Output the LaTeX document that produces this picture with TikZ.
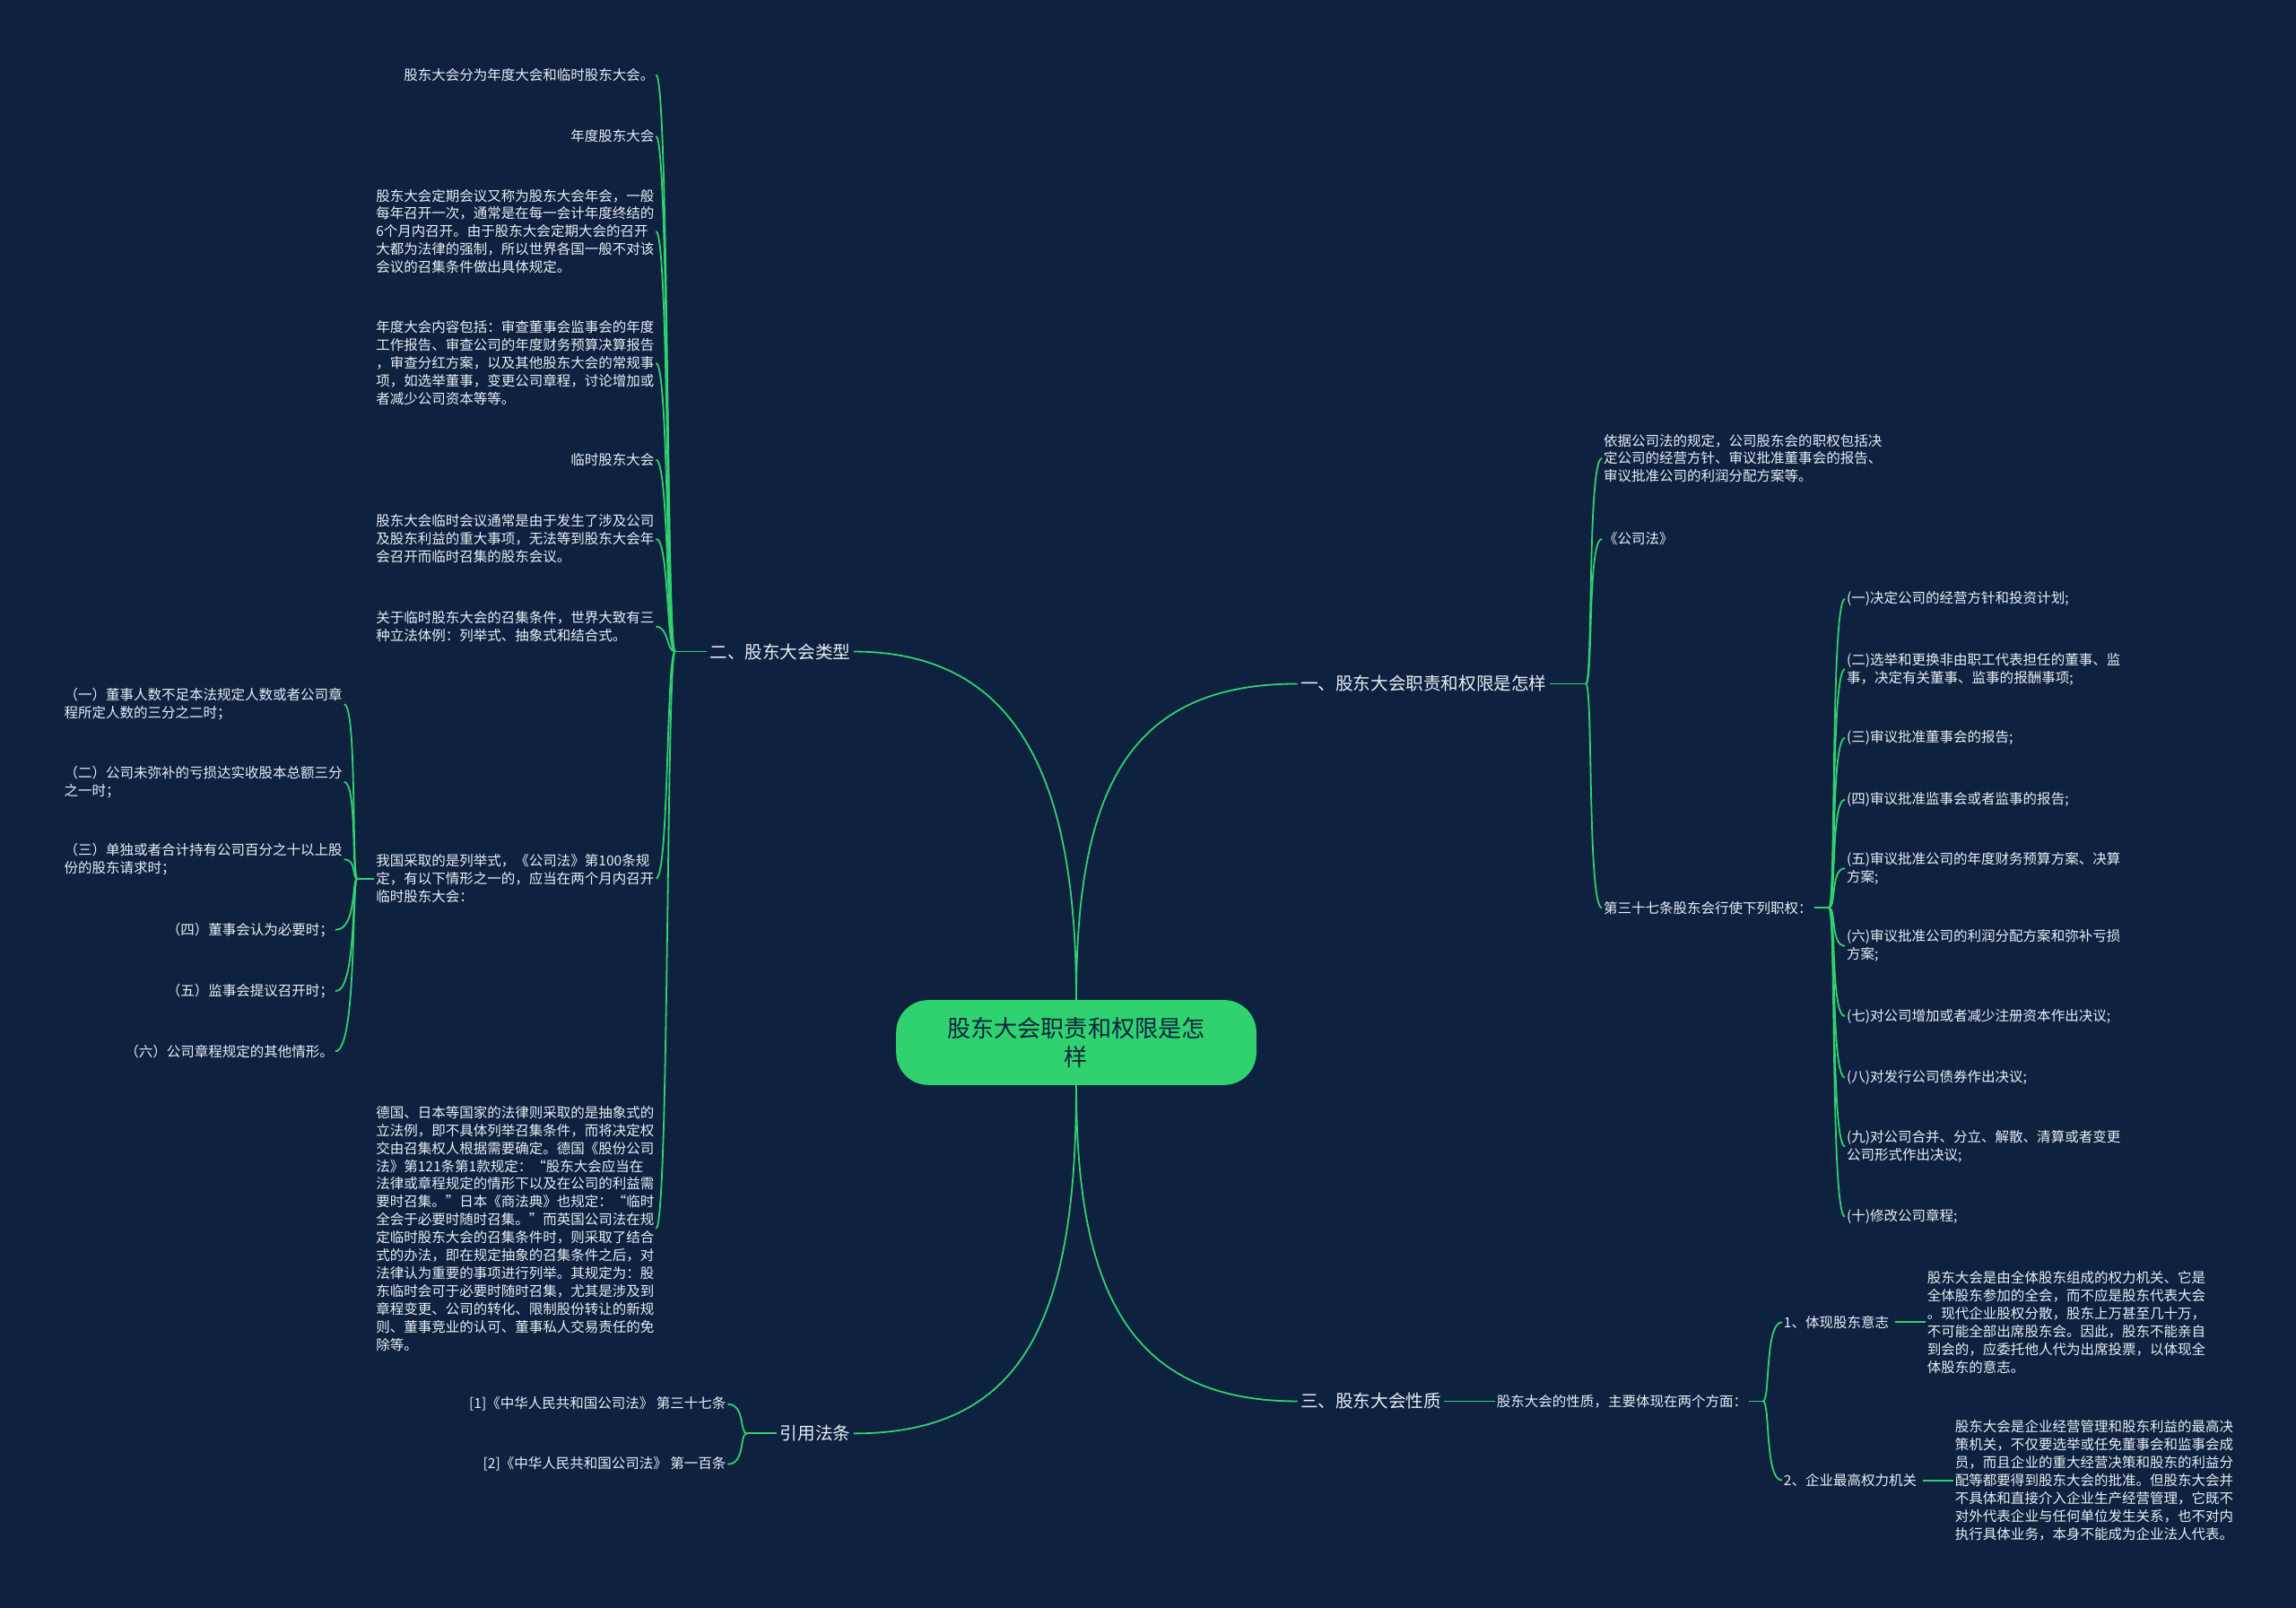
\documentclass[tikz,border=0pt]{standalone}
\usepackage{fontspec}
\setmainfont{Noto Sans CJK SC}
\definecolor{bg}{HTML}{0E2240}
\definecolor{ln}{HTML}{2FD26F}
\definecolor{tx}{HTML}{E8EEF4}
\begin{document}
\begin{tikzpicture}[x=1pt,y=-1pt,
 link/.style={draw=ln,line width=1.1pt},
 leaf/.style={text=tx,font=\fontsize{9.5}{12.2}\selectfont,inner sep=1pt,align=left},
 lleaf/.style={leaf,anchor=east},
 rleaf/.style={leaf,anchor=west},
 br/.style={text=tx,font=\fontsize{12}{14}\selectfont,inner sep=2pt}]
\fill[bg] (0,0) rectangle (1568,1098);
\useasboundingbox (0,0) rectangle (1568,1098);
% center
\node[fill=ln,rounded corners=22pt,minimum width=246pt,minimum height=58pt,align=center,
 font=\fontsize{16}{20}\selectfont,text=bg] (c) at (735,712) {股东大会职责和权限是怎\\样};
% branches
\node[br,anchor=west] (b1) at (886,467) {一、股东大会职责和权限是怎样};
\node[br,anchor=east] (b2) at (583,445) {二、股东大会类型};
\node[br,anchor=west] (b3) at (886,957) {三、股东大会性质};
\node[br,anchor=east] (b4) at (583,979) {引用法条};
\draw[link] (c.north) .. controls (735,540) and (770,467) .. (b1.west);
\draw[link] (c.north) .. controls (735,540) and (700,445) .. (b2.east);
\draw[link] (c.south) .. controls (735,880) and (770,957) .. (b3.west);
\draw[link] (c.south) .. controls (735,900) and (700,979) .. (b4.east);
% ---- branch 2
\coordinate (k2) at (461,445);
\draw[link] (b2.west) -- (k2);
\node[lleaf] (a1) at (448,51) {股东大会分为年度大会和临时股东大会。};
\node[lleaf] (a2) at (448,93) {年度股东大会};
\node[lleaf] (a3) at (448,158) {股东大会定期会议又称为股东大会年会，一般\\每年召开一次，通常是在每一会计年度终结的\\6个月内召开。由于股东大会定期大会的召开\\大都为法律的强制，所以世界各国一般不对该\\会议的召集条件做出具体规定。};
\node[lleaf] (a4) at (448,248) {年度大会内容包括：审查董事会监事会的年度\\工作报告、审查公司的年度财务预算决算报告\\，审查分红方案，以及其他股东大会的常规事\\项，如选举董事，变更公司章程，讨论增加或\\者减少公司资本等等。};
\node[lleaf] (a5) at (448,314) {临时股东大会};
\node[lleaf] (a6) at (448,368) {股东大会临时会议通常是由于发生了涉及公司\\及股东利益的重大事项，无法等到股东大会年\\会召开而临时召集的股东会议。};
\node[lleaf] (a7) at (448,428) {关于临时股东大会的召集条件，世界大致有三\\种立法体例：列举式、抽象式和结合式。};
\node[lleaf] (a8) at (448,600) {我国采取的是列举式，《公司法》第100条规\\定，有以下情形之一的，应当在两个月内召开\\临时股东大会：};
\node[lleaf] (a9) at (448,839) {德国、日本等国家的法律则采取的是抽象式的\\立法例，即不具体列举召集条件，而将决定权\\交由召集权人根据需要确定。德国《股份公司\\法》第121条第1款规定：“股东大会应当在\\法律或章程规定的情形下以及在公司的利益需\\要时召集。”日本《商法典》也规定：“临时\\全会于必要时随时召集。”而英国公司法在规\\定临时股东大会的召集条件时，则采取了结合\\式的办法，即在规定抽象的召集条件之后，对\\法律认为重要的事项进行列举。其规定为：股\\东临时会可于必要时随时召集，尤其是涉及到\\章程变更、公司的转化、限制股份转让的新规\\则、董事竞业的认可、董事私人交易责任的免\\除等。};
\foreach \n/\y in {a1/51,a2/93,a3/158,a4/248,a5/314,a6/368,a7/428,a8/600,a9/839}
 \draw[link] (k2) .. controls (455,445) and (457,\y) .. (\n.east);
% sub of a8
\coordinate (k8) at (244,600);
\draw[link] (a8.west) -- (k8);
\node[lleaf] (s1) at (235,481) {（一）董事人数不足本法规定人数或者公司章\\程所定人数的三分之二时；};
\node[lleaf] (s2) at (235,534) {（二）公司未弥补的亏损达实收股本总额三分\\之一时；};
\node[lleaf] (s3) at (235,587) {（三）单独或者合计持有公司百分之十以上股\\份的股东请求时；};
\node[lleaf] (s4) at (229,635) {（四）董事会认为必要时；};
\node[lleaf] (s5) at (229,677) {（五）监事会提议召开时；};
\node[lleaf] (s6) at (229,718) {（六）公司章程规定的其他情形。};
\foreach \n/\y in {s1/481,s2/534,s3/587,s4/635,s5/677,s6/718}
 \draw[link] (k8) .. controls (240,600) and (244,\y) .. (\n.east);
% ---- branch 1
\coordinate (k1) at (1083,467);
\draw[link] (b1.east) -- (k1);
\node[rleaf] (c1) at (1094,313) {依据公司法的规定，公司股东会的职权包括决\\定公司的经营方针、审议批准董事会的报告、\\审议批准公司的利润分配方案等。};
\node[rleaf] (c2) at (1094,368) {《公司法》};
\node[rleaf] (c3) at (1094,620) {第三十七条股东会行使下列职权：};
\foreach \n/\y in {c1/313,c2/368,c3/620}
 \draw[link] (k1) .. controls (1088,467) and (1084,\y) .. (\n.west);
\coordinate (k3) at (1249,620);
\draw[link] (c3.east) -- (k3);
\node[rleaf] (d1) at (1260,409) {(一)决定公司的经营方针和投资计划;};
\node[rleaf] (d2) at (1260,457) {(二)选举和更换非由职工代表担任的董事、监\\事，决定有关董事、监事的报酬事项;};
\node[rleaf] (d3) at (1260,504) {(三)审议批准董事会的报告;};
\node[rleaf] (d4) at (1260,546) {(四)审议批准监事会或者监事的报告;};
\node[rleaf] (d5) at (1260,593) {(五)审议批准公司的年度财务预算方案、决算\\方案;};
\node[rleaf] (d6) at (1260,646) {(六)审议批准公司的利润分配方案和弥补亏损\\方案;};
\node[rleaf] (d7) at (1260,694) {(七)对公司增加或者减少注册资本作出决议;};
\node[rleaf] (d8) at (1260,736) {(八)对发行公司债券作出决议;};
\node[rleaf] (d9) at (1260,783) {(九)对公司合并、分立、解散、清算或者变更\\公司形式作出决议;};
\node[rleaf] (d10) at (1260,831) {(十)修改公司章程;};
\foreach \n/\y in {d1/409,d2/457,d3/504,d4/546,d5/593,d6/646,d7/694,d8/736,d9/783,d10/831}
 \draw[link] (k3) .. controls (1254,620) and (1250,\y) .. (\n.west);
% ---- branch 3
\node[rleaf] (e0) at (1021,957) {股东大会的性质，主要体现在两个方面：};
\draw[link] (b3.east) -- (e0.west);
\coordinate (k5) at (1204,957);
\draw[link] (e0.east) -- (k5);
\node[rleaf] (e1) at (1217,903) {1、体现股东意志};
\node[rleaf] (e2) at (1217,1011) {2、企业最高权力机关};
\foreach \n/\y in {e1/903,e2/1011}
 \draw[link] (k5) .. controls (1209,957) and (1205,\y) .. (\n.west);
\node[rleaf] (f1) at (1315,903) {股东大会是由全体股东组成的权力机关、它是\\全体股东参加的全会，而不应是股东代表大会\\。现代企业股权分散，股东上万甚至几十万，\\不可能全部出席股东会。因此，股东不能亲自\\到会的，应委托他人代为出席投票，以体现全\\体股东的意志。};
\node[rleaf] (f2) at (1334,1011) {股东大会是企业经营管理和股东利益的最高决\\策机关，不仅要选举或任免董事会和监事会成\\员，而且企业的重大经营决策和股东的利益分\\配等都要得到股东大会的批准。但股东大会并\\不具体和直接介入企业生产经营管理，它既不\\对外代表企业与任何单位发生关系，也不对内\\执行具体业务，本身不能成为企业法人代表。};
\draw[link] (e1.east) ++(3,0) -- (f1.west);
\draw[link] (e2.east) ++(3,0) -- (f2.west);
% ---- branch 4
\coordinate (k4) at (510,979);
\draw[link] (b4.west) -- (k4);
\node[lleaf] (g1) at (497,959) {[1]《中华人民共和国公司法》 第三十七条};
\node[lleaf] (g2) at (497,1000) {[2]《中华人民共和国公司法》 第一百条};
\foreach \n/\y in {g1/959,g2/1000}
 \draw[link] (k4) .. controls (505,979) and (509,\y) .. (\n.east);
\end{tikzpicture}
\end{document}
